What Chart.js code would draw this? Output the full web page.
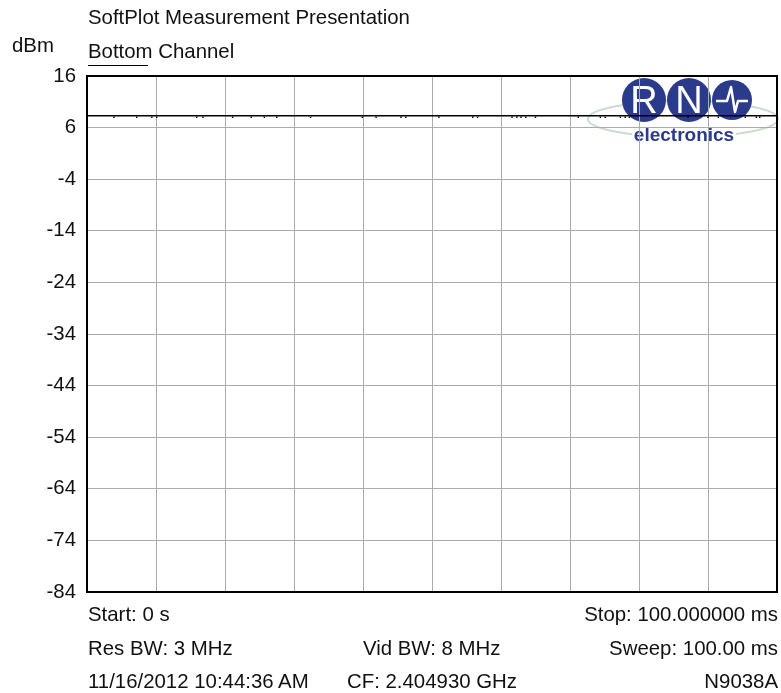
<!DOCTYPE html>
<html>
<head>
<meta charset="utf-8">
<script src="https://cdn.jsdelivr.net/npm/chart.js@4/dist/chart.umd.min.js"></script>
<style>
  html, body { margin: 0; padding: 0; background: #fff; }
  #wrap { position: relative; width: 781px; height: 693px; }
  #plot { position: absolute; left: 0; top: 0; }
  .t { position: absolute; font-family: "Liberation Sans", Arial, sans-serif; font-size: 20.4px; line-height: 20px; color: #111; white-space: nowrap; }
  .r { text-align: right; }
  #legendLine { position: absolute; left: 88px; top: 65px; width: 60px; height: 0; border-top: 1.5px solid #000; }
</style>
</head>
<body>
<div id="wrap">
  <canvas id="plot" width="781" height="693"></canvas>
  <div class="t" style="left:88px;top:7px">SoftPlot Measurement Presentation</div>
  <div class="t" style="left:12px;top:35px">dBm</div>
  <div class="t" style="left:88px;top:41px">Bottom Channel</div>
  <div id="legendLine"></div>

  <div class="t" style="left:88px;top:604px">Start: 0 s</div>
  <div class="t r" style="right:3px;top:604px">Stop: 100.000000 ms</div>
  <div class="t" style="left:88px;top:638px">Res BW: 3 MHz</div>
  <div class="t" style="left:363px;top:638px">Vid BW: 8 MHz</div>
  <div class="t r" style="right:3px;top:638px">Sweep: 100.00 ms</div>
  <div class="t" style="left:88px;top:671px">11/16/2012 10:44:36 AM</div>
  <div class="t" style="left:347px;top:671px">CF: 2.404930 GHz</div>
  <div class="t r" style="right:3px;top:671px">N9038A</div>
</div>
<script>
// sweep time axis (ms) and level axis (dBm)
const timeMin = 0, timeMax = 100, timeStep = 10;
const levelMin = -84, levelMax = 16, levelStep = 10;

// main trace, flat around 8.3 dBm
const traceTimes  = [0, 10, 20, 30, 40, 50, 60, 70, 80, 90, 100];
const traceLevels = [8.3, 8.3, 8.3, 8.3, 8.3, 8.3, 8.3, 8.3, 8.3, 8.3, 8.3];

// small dips under the trace
const dipTimes = [3.9, 7.2, 9.4, 10.1, 15.9, 16.8, 21.1, 23.8, 25.7, 27.5, 32.4, 39.9, 41.9,
                  45.5, 46.2, 51.0, 55.9, 56.6, 61.6, 62.3, 62.9, 63.6, 65.0, 71.2, 74.4, 75.1,
                  77.3, 78.0, 78.6, 87.1, 90.0, 91.5, 95.4, 97.0, 97.5];
const dipLevels = [8.0, 8.0, 8.0, 8.0, 8.0, 8.0, 8.0, 8.0, 8.0, 8.0, 8.0, 8.0, 8.0,
                   8.0, 8.0, 8.0, 8.0, 8.0, 8.0, 8.0, 8.0, 8.0, 8.0, 8.0, 8.0, 8.0,
                   8.0, 8.0, 8.0, 8.0, 8.0, 8.0, 8.0, 8.0, 8.0];

const FONT = '"Liberation Sans", Arial, sans-serif';
const GRID = '#ababab';

// black frame round the plot area
const framePlugin = {
  id: 'frame',
  afterDatasetsDraw(chart) {
    const a = chart.chartArea, c = chart.ctx;
    c.save();
    c.strokeStyle = '#000';
    c.lineWidth = 2;
    c.strokeRect(a.left, a.top, a.right - a.left, a.bottom - a.top);
    c.restore();
  }
};

// RN electronics logo, drawn before the grid so grid lines cross it
const logoPlugin = {
  id: 'logo',
  beforeDraw(chart) {
    const c = chart.ctx;
    c.save();
    c.fillStyle = '#fff';
    c.fillRect(0, 0, chart.width, chart.height);

    c.strokeStyle = '#c9dccb';
    c.lineWidth = 2;
    c.beginPath();
    c.ellipse(683, 119, 95, 18, 0, 0, Math.PI * 2);
    c.stroke();

    // white gap behind the word
    c.fillStyle = '#fff';
    c.fillRect(632, 126, 104, 20);

    const navy = '#2b3b8c';
    const cx = [644, 689, 732], cy = 100, rad = [22, 22, 20];
    c.fillStyle = navy;
    cx.forEach((x, i) => { c.beginPath(); c.arc(x, cy, rad[i], 0, Math.PI * 2); c.fill(); });

    c.fillStyle = '#fff';
    c.font = '38px ' + FONT;
    c.textAlign = 'center';
    c.textBaseline = 'alphabetic';
    c.fillText('R', cx[0], cy + 13);
    c.fillText('N', cx[1], cy + 13);

    c.strokeStyle = '#fff';
    c.lineWidth = 2.5;
    c.lineJoin = 'round';
    c.beginPath();
    c.moveTo(cx[2] - 16, cy + 1);
    c.lineTo(cx[2] - 5, cy + 1);
    c.lineTo(cx[2] - 1, cy - 13);
    c.lineTo(cx[2] + 3, cy + 12);
    c.lineTo(cx[2] + 6, cy + 1);
    c.lineTo(cx[2] + 16, cy + 1);
    c.stroke();

    c.fillStyle = navy;
    c.font = 'bold 19px ' + FONT;
    c.fillText('electronics', 684, 141);
    c.restore();
  }
};

const trace = traceTimes.map((t, i) => ({ x: t, y: traceLevels[i] }));
const dips = dipTimes.map((t, i) => ({ x: t, y: dipLevels[i] }));

new Chart(document.getElementById('plot'), {
  type: 'scatter',
  data: {
    datasets: [
      { label: 'Bottom Channel', data: trace, showLine: true, borderColor: '#000', borderWidth: 1.5, pointRadius: 0, tension: 0 },
      { label: 'dips', data: dips, showLine: false, pointStyle: 'rect', pointRadius: 1, backgroundColor: '#000', borderWidth: 0 }
    ]
  },
  options: {
    responsive: false,
    animation: false,
    devicePixelRatio: 1,
    layout: { padding: { left: 0, top: 76, right: 2, bottom: 101 } },
    plugins: { legend: { display: false }, tooltip: { enabled: false } },
    scales: {
      x: {
        type: 'linear', min: timeMin, max: timeMax,
        ticks: { display: false, stepSize: timeStep },
        grid: { color: GRID, drawTicks: false },
        border: { display: false },
        afterFit(s) { s.height = 0; }
      },
      y: {
        min: levelMin, max: levelMax,
        ticks: { stepSize: levelStep, color: '#111', font: { family: FONT, size: 20.4 }, padding: 11 },
        grid: { color: GRID, drawTicks: false },
        border: { display: false },
        afterFit(s) { s.width = 87; }
      }
    }
  },
  plugins: [logoPlugin, framePlugin]
});
</script>
</body>
</html>
